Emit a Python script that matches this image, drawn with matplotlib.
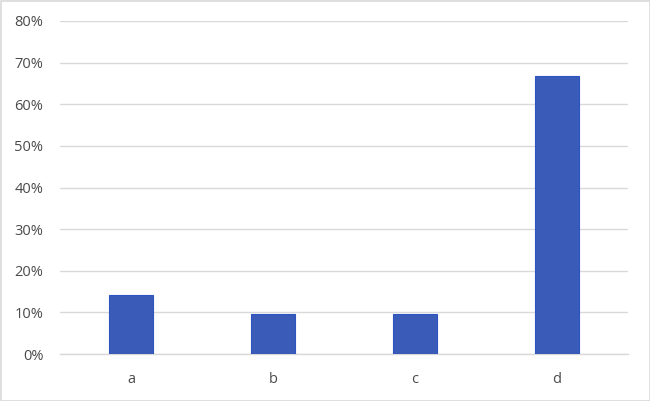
import matplotlib
matplotlib.use("Agg")
import matplotlib.pyplot as plt
from matplotlib.ticker import FuncFormatter
from matplotlib.patches import Rectangle

categories = ["a", "b", "c", "d"]
values = [0.1429, 0.0952, 0.0952, 0.6667]
yticks = [0, 0.1, 0.2, 0.3, 0.4, 0.5, 0.6, 0.7, 0.8]

plt.rcParams['font.family'] = ['Open Sans', 'DejaVu Sans']

fig = plt.figure(figsize=(6.5, 4.01), dpi=100)
ax = fig.add_axes([60/650, 1-354/401, 568/650, 333/401])

x = list(range(len(categories)))
ax.bar(x, values, width=0.31, color="#3A5CB8", edgecolor="#2E54C2", linewidth=0.8, zorder=3)

ax.set_xlim(-0.5, 3.5)
ax.set_ylim(0, 0.8)
ax.set_yticks(yticks)
ax.yaxis.set_major_formatter(FuncFormatter(lambda v, p: f"{v*100:.0f}%"))
ax.set_xticks(x)
ax.set_xticklabels(categories)
ax.grid(axis="y", color="#D9D9D9", linewidth=1, zorder=0)
for s in ["top", "right", "left"]:
    ax.spines[s].set_visible(False)
ax.spines["bottom"].set_color("#D9D9D9")
ax.spines["bottom"].set_linewidth(1)
ax.tick_params(axis="both", length=0, colors="#4A4A4A", labelsize=10.5)
ax.tick_params(axis="y", pad=12)
ax.tick_params(axis="x", pad=13)

fig.patches.append(Rectangle((0.5/650, 0.5/401), 1-1/650, 1-1/401, transform=fig.transFigure,
                             fill=False, edgecolor="#D9D9D9", linewidth=1.2))

fig.savefig("out.png", dpi=100, facecolor="white")
